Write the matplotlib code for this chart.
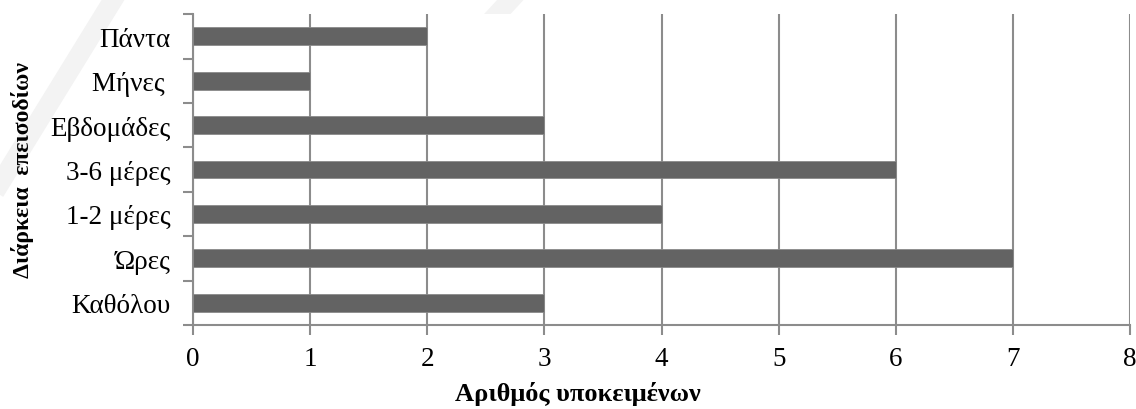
import matplotlib.pyplot as plt
from matplotlib.ticker import FixedLocator
from matplotlib.lines import Line2D

categories = ['Καθόλου', 'Ώρες', '1-2 μέρες', '3-6 μέρες', 'Εβδομάδες', 'Μήνες ', 'Πάντα']
counts = [3, 7, 4, 6, 3, 1, 2]
x_ticks = [0, 1, 2, 3, 4, 5, 6, 7, 8]

plt.rcParams['font.family'] = ['Liberation Serif', 'DejaVu Serif']

fig = plt.figure(figsize=(11.36, 4.10), dpi=100)
ax = fig.add_axes([0.170, 0.205, 0.8247, 0.758])

# faint watermark stripes in the corner
fig.add_artist(Line2D([0.0, 0.10], [0.55, 1.0], transform=fig.transFigure,
                      color='#f3f3f3', linewidth=14, zorder=0))
fig.add_artist(Line2D([0.45, 0.30], [1.0, 0.55], transform=fig.transFigure,
                      color='#f3f3f3', linewidth=14, zorder=0))

pos = range(len(categories))
ax.barh(pos, counts, height=0.4, color='#636363', edgecolor='#8a8a8a',
        linewidth=0.6, zorder=3)

ax.set_xlim(0, 8)
ax.set_ylim(-0.5, len(categories) - 0.5)
ax.set_xticks(x_ticks)
ax.set_yticks(list(pos))
ax.set_yticklabels(categories)
ax.yaxis.set_minor_locator(FixedLocator([i - 0.5 for i in range(len(categories) + 1)]))

ax.grid(axis='x', color='#8c8c8c', linewidth=1.5, zorder=1)
ax.set_axisbelow(True)

for side in ['top', 'right']:
    ax.spines[side].set_visible(False)
for side in ['left', 'bottom']:
    ax.spines[side].set_color('#8c8c8c')
    ax.spines[side].set_linewidth(1.5)

ax.tick_params(axis='y', which='major', length=0, pad=16, labelsize=19.5)
ax.tick_params(axis='y', which='minor', length=7, width=1.5, color='#8c8c8c')
ax.tick_params(axis='x', which='major', length=7, width=1.5, color='#8c8c8c',
               pad=8, labelsize=19.5)

fig.text(0.509, 0.022, 'Αριθμός υποκειμένων', fontsize=19, fontweight='bold',
         ha='center', va='baseline')
fig.text(0.020, 0.585, 'Διάρκεια  επεισοδίων', fontsize=17, fontweight='bold',
         rotation=90, ha='center', va='center')

fig.savefig('out.png', dpi=100)
